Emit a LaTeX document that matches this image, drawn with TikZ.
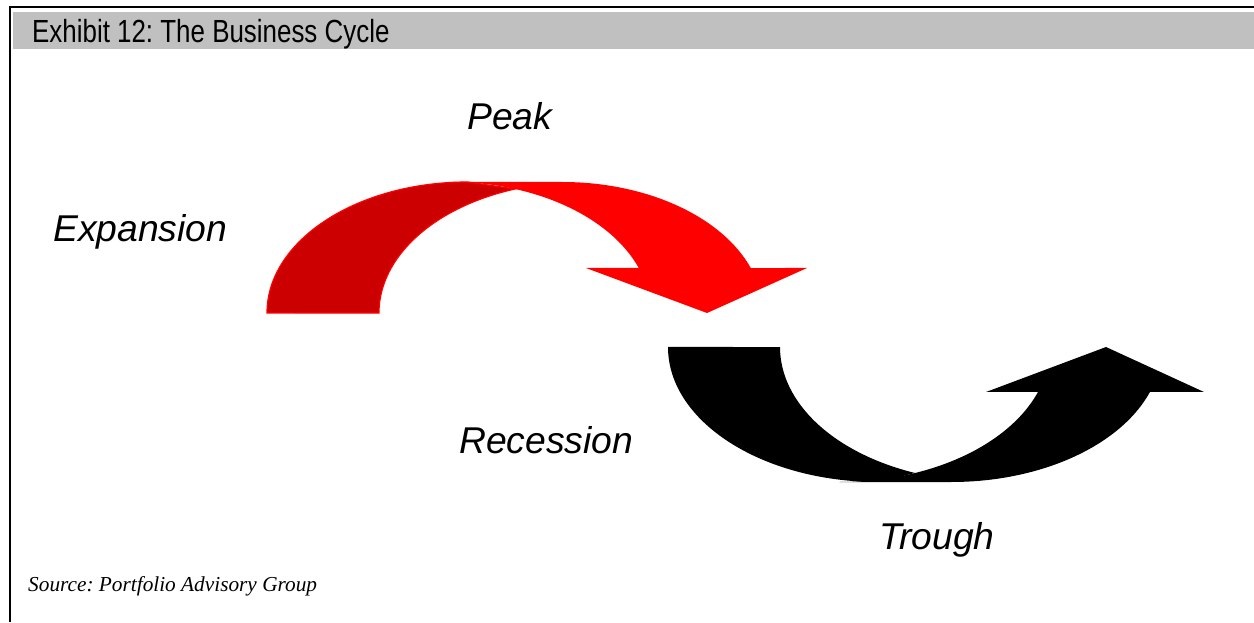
\documentclass[tikz,border=0pt]{standalone}
\usepackage{fontspec}
\setmainfont{Liberation Sans}
\newfontfamily\narrowfont{Liberation Sans}[FakeStretch=0.81]
\newfontfamily\timesfont{Liberation Serif}
\definecolor{arrowred}{RGB}{255,0,0}
\definecolor{shadered}{RGB}{204,0,0}
\definecolor{bandgray}{RGB}{192,192,192}
\frenchspacing
\tikzset{
  label/.style={anchor=base west, inner sep=0pt, font=\fontsize{37.3}{40}\selectfont\itshape},
  frameline/.style={line width=2.4pt, black},
}
\begin{document}
\begin{tikzpicture}[x=1pt,y=1pt]
\useasboundingbox (0,0) rectangle (1254,622);
% frame and title band
\fill[bandgray] (13,573) rectangle (1254,610);
\draw[frameline] (9,615) -- (1254,615);
\draw[frameline] (10,616.2) -- (10,0);
\node[anchor=base west, inner sep=0pt, font=\narrowfont\fontsize{32}{36}\selectfont] (title) at (32,579) {Exhibit 12: The Business Cycle};
% red curved down arrow: shaded back band
\fill[shadered, draw=arrowred, line width=1.2pt]
  (267,309) arc[start angle=180, end angle=90, x radius=200.7, y radius=131]
  -- (515,433)
  arc[start angle=108.8, end angle=180, x radius=200.7, y radius=131] -- cycle;
% red front band with head
\fill[arrowred]
  (562.3,440) arc[start angle=90, end angle=20.09, x radius=200.7, y radius=131]
  -- (807,354) -- (707,309) -- (586,354) -- (638.8,354)
  arc[start angle=20.09, end angle=90, x radius=200.7, y radius=131] -- cycle;
% black curved up arrow: back band
\fill[black]
  (668,275) arc[start angle=180, end angle=270, x radius=210.6, y radius=135]
  -- (915,149)
  arc[start angle=248.96, end angle=180, x radius=210.6, y radius=135] -- cycle;
% black front band with head
\fill[black]
  (951.4,140) arc[start angle=270, end angle=340.53, x radius=210.6, y radius=135]
  -- (1204,230) -- (1106,275) -- (986,230) -- (1038,230)
  arc[start angle=340.53, end angle=270, x radius=210.6, y radius=135] -- cycle;
% labels
\node[label] (peak) at (467,492) {Peak};
\node[label] (expansion) at (53,380) {Expansion};
\node[label] (recession) at (459,168) {Recession};
\node[label] (trough) at (879,73) {Trough};
\node[anchor=base west, inner sep=0pt, font=\timesfont\itshape\fontsize{21.3}{24}\selectfont] (source) at (28,31) {Source: Portfolio Advisory Group};
\end{tikzpicture}
\end{document}
